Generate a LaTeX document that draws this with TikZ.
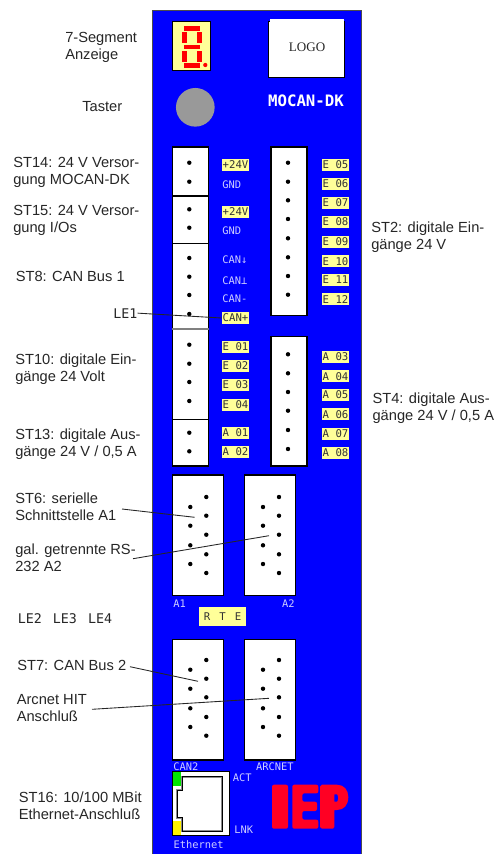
\documentclass[tikz,border=0pt]{standalone}
\usepackage{fontspec}
\setmainfont{Liberation Sans}
\newfontfamily\tagfont{DejaVu Sans Mono}
\newfontfamily\logofont{Liberation Serif}
\definecolor{panelblue}{RGB}{0,0,255}
\definecolor{tagyellow}{RGB}{255,255,153}
\definecolor{boardtext}{RGB}{205,205,255}
\definecolor{iepred}{RGB}{255,0,35}
\begin{document}
\begin{tikzpicture}[x=0.75pt,y=-0.75pt]
	\tikzstyle{note}=[anchor=base west,align=left,inner sep=0pt,text=black!85,font=\fontsize{11}{12.75}\selectfont]
	\tikzstyle{ledname}=[anchor=base west,inner sep=0pt,text=black!85,font=\tagfont\fontsize{10}{12}\selectfont]
	\tikzstyle{socket}=[draw=black,fill=white,line width=0.8pt,inner sep=0pt]
	\tikzstyle{pinhole}=[circle,fill=black,inner sep=0pt,minimum size=3.3pt]
	\tikzstyle{tagbox}=[fill=tagyellow,inner sep=0pt,minimum width=20.25pt,minimum height=9pt,text=black!80,font=\tagfont\fontsize{8}{9}\selectfont]
	\tikzstyle{boardname}=[anchor=west,inner sep=0pt,text=boardtext,font=\tagfont\fontsize{7.8}{9}\selectfont]
	\tikzstyle{edge}=[draw,line width=0.65pt,black!85]
	\useasboundingbox (0,0) rectangle (495,854);
	% board
	\node [draw=black!70,fill=panelblue,line width=0.7pt,inner sep=0pt,minimum width=156.4pt,minimum height=633pt] (board) at (256.75,432) {};
	% display, logo, button
	\node [draw=black,fill=tagyellow,line width=0.8pt,inner sep=0pt,minimum width=28.8pt,minimum height=36.4pt] (display) at (191.5,46) {};
	\fill[red] (184,26) rectangle (200,30.7);
	\fill[red] (184,45) rectangle (200,49);
	\fill[red] (184,63.3) rectangle (200,68);
	\fill[red] (182.3,32.3) rectangle (187,43.3);
	\fill[red] (197.3,32.3) rectangle (202,43.3);
	\fill[red] (182.3,50.7) rectangle (187,61.7);
	\fill[red] (197.3,50.7) rectangle (202,61.7);
	\fill[red] (205.3,65) circle (1.6pt);
	\node [draw=black,fill=white,line width=0.8pt,inner sep=0pt,minimum width=57pt,minimum height=41.7pt] (logoback) at (306.2,49.5) {};
	\node [fill=white,inner sep=0pt,minimum width=55.8pt,minimum height=42.5pt,font=\logofont\fontsize{9.8}{11}\selectfont,text=black!85] (logo) at (307.1,47.3) {LOGO};
	\node [inner sep=0pt,text=white,font=\tagfont\bfseries\fontsize{11.8}{14}\selectfont] (title) at (306,100.7) {MOCAN-DK};
	\node [circle,fill=black!40,inner sep=0pt,minimum size=29pt] (button) at (195.3,107.3) {};
	% left sockets
	\node [socket,minimum width=27.3pt,minimum height=36.75pt] (st14) at (190.5,171.5) {};
	\node [socket,minimum width=27.3pt,minimum height=35.5pt] (st15) at (190.5,219.65) {};
	\node [socket,minimum width=27.3pt,minimum height=64.8pt] (st8) at (190.5,286.5) {};
	\node [socket,minimum width=27.3pt,minimum height=67.2pt] (st10) at (190.5,374.5) {};
	\node [socket,minimum width=27.3pt,minimum height=35pt] (st13) at (190.5,442.65) {};
	\draw[black!50,line width=1.1pt] (st10.north west) -- (st10.north east);
	% right sockets
	\node [socket,minimum width=27pt,minimum height=126.2pt] (st2) at (289,231.15) {};
	\node [socket,minimum width=27pt,minimum height=97.3pt] (st4) at (289,401.15) {};
	% sub-d sockets
	\node [socket,minimum width=38.2pt,minimum height=90.2pt] (a1) at (198.2,535.15) {};
	\node [socket,minimum width=38pt,minimum height=90.2pt] (a2) at (270,535.15) {};
	\node [socket,minimum width=38.2pt,minimum height=90.7pt] (can2) at (198.2,699.5) {};
	\node [socket,minimum width=38pt,minimum height=90.7pt] (arcnet) at (270,699.5) {};
	% pins left column
	\node [pinhole] (p1) at (189.3,162.7) {};
	\node [pinhole] (p2) at (189.3,181.7) {};
	\node [pinhole] (p3) at (189.3,209.3) {};
	\node [pinhole] (p4) at (189.3,227.7) {};
	\node [pinhole] (p5) at (189.3,258) {};
	\node [pinhole] (p6) at (189.3,276.7) {};
	\node [pinhole] (p7) at (189.3,295) {};
	\node [pinhole] (p8) at (189.3,314) {};
	\node [pinhole] (p9) at (189.3,344.7) {};
	\node [pinhole] (p10) at (189.3,363.7) {};
	\node [pinhole] (p11) at (189.3,382) {};
	\node [pinhole] (p12) at (189.3,401) {};
	\node [pinhole] (p13) at (189.3,432.7) {};
	\node [pinhole] (p14) at (189.3,451.3) {};
	% pins right column
	\node [pinhole] (q1) at (288,162.7) {};
	\node [pinhole] (q2) at (288,181.7) {};
	\node [pinhole] (q3) at (288,200.3) {};
	\node [pinhole] (q4) at (288,219) {};
	\node [pinhole] (q5) at (288,238.3) {};
	\node [pinhole] (q6) at (288,257.3) {};
	\node [pinhole] (q7) at (288,276) {};
	\node [pinhole] (q8) at (288,294.7) {};
	\node [pinhole] (q9) at (288,354.3) {};
	\node [pinhole] (q10) at (288,373.3) {};
	\node [pinhole] (q11) at (288,392) {};
	\node [pinhole] (q12) at (288,410.7) {};
	\node [pinhole] (q13) at (288,430) {};
	\node [pinhole] (q14) at (288,449) {};
	% pins A1
	\node [pinhole] (a1p1) at (206.3,497) {};
	\node [pinhole] (a1p2) at (206.3,515.7) {};
	\node [pinhole] (a1p3) at (206.3,534.7) {};
	\node [pinhole] (a1p4) at (206.3,554.3) {};
	\node [pinhole] (a1p5) at (206.3,573) {};
	\node [pinhole] (a1p6) at (190.3,507) {};
	\node [pinhole] (a1p7) at (190.3,525.7) {};
	\node [pinhole] (a1p8) at (190.3,545.3) {};
	\node [pinhole] (a1p9) at (190.3,564) {};
	% pins A2
	\node [pinhole] (a2p1) at (279,497) {};
	\node [pinhole] (a2p2) at (279,515.7) {};
	\node [pinhole] (a2p3) at (279,534.7) {};
	\node [pinhole] (a2p4) at (279,554.3) {};
	\node [pinhole] (a2p5) at (279,573) {};
	\node [pinhole] (a2p6) at (263,507) {};
	\node [pinhole] (a2p7) at (263,525.7) {};
	\node [pinhole] (a2p8) at (263,545.3) {};
	\node [pinhole] (a2p9) at (263,564) {};
	% pins CAN2
	\node [pinhole] (cp1) at (206.3,660) {};
	\node [pinhole] (cp2) at (206.3,678.7) {};
	\node [pinhole] (cp3) at (206.3,697.3) {};
	\node [pinhole] (cp4) at (206.3,717) {};
	\node [pinhole] (cp5) at (206.3,735.7) {};
	\node [pinhole] (cp6) at (190.3,669.7) {};
	\node [pinhole] (cp7) at (190.3,688.7) {};
	\node [pinhole] (cp8) at (190.3,708.3) {};
	\node [pinhole] (cp9) at (190.3,727) {};
	% pins ARCNET
	\node [pinhole] (rp1) at (279,660) {};
	\node [pinhole] (rp2) at (279,678.7) {};
	\node [pinhole] (rp3) at (279,697.3) {};
	\node [pinhole] (rp4) at (279,717) {};
	\node [pinhole] (rp5) at (279,735.7) {};
	\node [pinhole] (rp6) at (263,669.7) {};
	\node [pinhole] (rp7) at (263,688.7) {};
	\node [pinhole] (rp8) at (263,708.3) {};
	\node [pinhole] (rp9) at (263,727) {};
	% terminal tags
	\node [tagbox] (v1) at (235.5,165) {+24V};
	\node [boardname] (g1) at (222,184.5) {GND};
	\node [tagbox] (v2) at (235.5,212) {+24V};
	\node [boardname] (g2) at (222,231) {GND};
	\node [boardname] (canh) at (222,260) {CAN↓};
	\node [boardname] (canl) at (222,280.7) {CAN⊥};
	\node [boardname] (canm) at (222,298.3) {CAN-};
	\node [tagbox] (canp) at (235.5,318) {CAN+};
	\node [tagbox] (e1) at (235.5,347) {E 01};
	\node [tagbox] (e2) at (235.5,366) {E 02};
	\node [tagbox] (e3) at (235.5,385) {E 03};
	\node [tagbox] (e4) at (235.5,404.5) {E 04};
	\node [tagbox] (o1) at (235.5,433) {A 01};
	\node [tagbox] (o2) at (235.5,452) {A 02};
	\node [tagbox] (e5) at (335.5,164.5) {E 05};
	\node [tagbox] (e6) at (335.5,184) {E 06};
	\node [tagbox] (e7) at (335.5,203) {E 07};
	\node [tagbox] (e8) at (335.5,222) {E 08};
	\node [tagbox] (e9) at (335.5,242) {E 09};
	\node [tagbox] (e10) at (335.5,261.3) {E 10};
	\node [tagbox] (e11) at (335.5,280) {E 11};
	\node [tagbox] (e12) at (335.5,299.3) {E 12};
	\node [tagbox] (o3) at (335.5,356.7) {A 03};
	\node [tagbox] (o4) at (335.5,376.3) {A 04};
	\node [tagbox] (o5) at (335.5,395) {A 05};
	\node [tagbox] (o6) at (335.5,414.3) {A 06};
	\node [tagbox] (o7) at (335.5,433.7) {A 07};
	\node [tagbox] (o8) at (335.5,453) {A 08};
	\node [tagbox,minimum width=35.25pt,minimum height=14.25pt] (rte) at (222.5,616.5) {R\hspace{6.8pt}T\hspace{6.8pt}E};
	% socket names
	\node [boardname] (a1name) at (173,604) {A1};
	\node [boardname,anchor=east] (a2name) at (295,604) {A2};
	\node [boardname] (can2name) at (173,766.3) {CAN2};
	\node [boardname,anchor=east] (arcnetname) at (294,766.3) {ARCNET};
	\node [boardname] (actname) at (232.7,778) {ACT};
	\node [boardname] (lnkname) at (234,830) {LNK};
	\node [boardname] (ethname) at (173.3,844.3) {Ethernet};
	% ethernet jack
	\node [draw=black,fill=white,line width=0.8pt,inner sep=0pt,minimum width=42.5pt,minimum height=47.7pt] (jack) at (201,803.5) {};
	\fill[green!90!black] (173.3,772.3) rectangle (181,785.7);
	\fill[yellow] (173.3,821) rectangle (181,834.7);
	\draw[black!45,line width=1.5pt] (182.3,776.7) -- (222.3,776.7) -- (222.3,831) -- (182.3,831) -- (182.3,817.7) -- (177,817.7) -- (177,790) -- (182.3,790) -- cycle;
	\draw[black,line width=0.4pt] (182.3,776.7) -- (222.3,776.7) -- (222.3,831) -- (182.3,831) -- (182.3,817.7) -- (177,817.7) -- (177,790) -- (182.3,790) -- cycle;
	% IEP
	\fill[iepred,rounded corners=1.5pt] (272,784.7) rectangle (288,828.7);
	\fill[iepred,rounded corners=1.5pt] (292.3,784.7) -- (318.3,784.7) -- (318.3,793.3) -- (302.3,793.3) -- (302.3,801.7) -- (317,801.7) -- (317,811) -- (302.3,811) -- (302.3,819.7) -- (318.3,819.7) -- (318.3,828.7) -- (292.3,828.7) -- cycle;
	\fill[iepred,even odd rule] (322,784.7) -- (337,784.7) .. controls (344,784.7) and (348.3,790) .. (348.3,797) .. controls (348.3,805) and (344,810) .. (337,810) -- (334.3,810) -- (334.3,827) -- (333,828.7) -- (322,828.7) -- (320,827) -- (320,786.5) -- cycle (334.3,794.3) -- (337,794.3) .. controls (338.5,795.5) and (338.5,800.5) .. (337,801.7) -- (334.3,801.7) -- cycle;
	% descriptions left
	\node [note] (segtext) at (65,59) {7-Segment\\Anzeige};
	\node [note] (tastertext) at (82,111) {Taster};
	\node [note] (st14text) at (13,184) {ST14: 24 V Versor-\\gung MOCAN-DK};
	\node [note] (st15text) at (13,232.3) {ST15: 24 V Versor-\\gung I/Os};
	\node [note] (st8text) at (15.5,281) {ST8: CAN Bus 1};
	\node [ledname] (le1) at (113,318) {LE1};
	\node [note] (st10text) at (15,381.7) {ST10: digitale Ein-\\gänge 24 Volt};
	\node [note] (st13text) at (15,456) {ST13: digitale Aus-\\gänge 24 V / 0,5 A};
	\node [note] (st6text) at (15,520) {ST6: serielle\\Schnittstelle A1};
	\node [note] (galtext) at (15,571.3) {gal. getrennte RS-\\232 A2};
	\node [ledname] (le234) at (17.5,623) {LE2\hspace{8.3pt}LE3\hspace{8.3pt}LE4};
	\node [note] (st7text) at (17,670.7) {ST7: CAN Bus 2};
	\node [note] (arctext) at (16.5,721.7) {Arcnet HIT\\Anschluß};
	\node [note] (st16text) at (18.5,819) {ST16: 10/100 MBit\\Ethernet-Anschluß};
	% descriptions right
	\node [note] (st2text) at (371,249) {ST2: digitale Ein-\\gänge 24 V};
	\node [note] (st4text) at (372.3,420.7) {ST4: digitale Aus-\\gänge 24 V / 0,5 A};
	% leaders
	\coordinate (st6start) at (122,509);
	\coordinate (st6end) at (194.7,517.3);
	\coordinate (galstart) at (133,558.7);
	\coordinate (galend) at (269,535.7);
	\coordinate (st7start) at (130,666.7);
	\coordinate (st7end) at (198,681.3);
	\coordinate (arcstart) at (92,709.3);
	\coordinate (arcend) at (269,698.3);
	\path[edge] (le1.east) -- (canp.west);
	\path[edge] (st6start) -- (st6end);
	\path[edge] (galstart) -- (galend);
	\path[edge] (st7start) -- (st7end);
	\path[edge] (arcstart) -- (arcend);
\end{tikzpicture}
\end{document}
